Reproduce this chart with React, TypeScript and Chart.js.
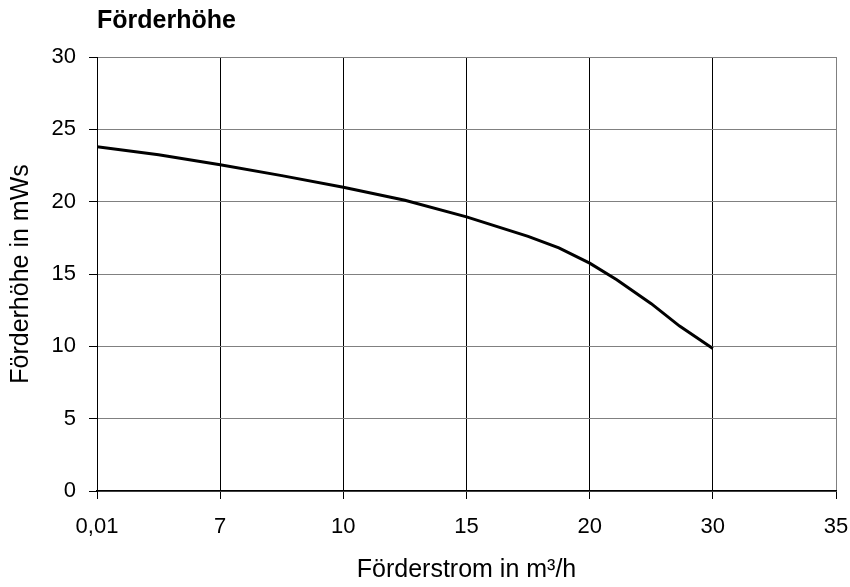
import React, { useEffect, useRef } from "react";
import { Chart, registerables } from "chart.js";

Chart.register(...registerables);

const chartTitle = "Förderhöhe";
const xAxisTitle = "Förderstrom in m³/h";
const yAxisTitle = "Förderhöhe in mWs";

// category tick labels on the x axis (equally spaced)
const xTickLabels = ["0,01", "7", "10", "15", "20", "30", "35"];

// curve points: position in category units along the x axis, head in mWs
const curveX = [0, 0.5, 1, 1.5, 2, 2.5, 3, 3.5, 3.75, 4, 4.22, 4.5, 4.73, 5];
const curveY = [23.8, 23.25, 22.55, 21.8, 21.0, 20.1, 18.95, 17.6, 16.8, 15.75, 14.6, 12.95, 11.4, 9.85];

const yMin = 0;
const yMax = 30;
const yStep = 5;

const FONT = "'Liberation Sans', Arial, sans-serif";

const titlePlugin = {
  id: "leftTitle",
  afterDraw(chart: any) {
    const { ctx, chartArea } = chart;
    ctx.save();
    ctx.font = `bold 25px ${FONT}`;
    ctx.fillStyle = "#000";
    ctx.textAlign = "left";
    ctx.textBaseline = "middle";
    ctx.fillText(chartTitle, chartArea.left, 21);
    ctx.restore();
  },
};

export default function App() {
  const ref = useRef<HTMLCanvasElement | null>(null);

  useEffect(() => {
    if (!ref.current) return;
    const data = curveX.map((x, i) => ({ x, y: curveY[i] }));
    const lastIdx = xTickLabels.length - 1;
    const chart = new Chart(ref.current, {
      type: "line",
      data: {
        datasets: [
          {
            data,
            borderColor: "#000",
            borderWidth: 3,
            pointRadius: 0,
            tension: 0,
            fill: false,
          },
        ],
      },
      options: {
        animation: false,
        responsive: true,
        maintainAspectRatio: false,
        layout: { padding: { top: 57, right: 14, bottom: 0, left: 0 } },
        plugins: {
          legend: { display: false },
          tooltip: { enabled: false },
          title: { display: false },
        },
        scales: {
          x: {
            type: "linear",
            min: 0,
            max: lastIdx,
            afterBuildTicks: (scale: any) => {
              scale.ticks = xTickLabels.map((_, i) => ({ value: i }));
            },
            afterFit: (scale: any) => {
              scale.height = 96;
              scale.paddingLeft = 0;
              scale.paddingRight = 0;
            },
            ticks: {
              callback: (v: any) => xTickLabels[Math.round(Number(v))] ?? "",
              color: "#000",
              font: { family: FONT, size: 22 },
              padding: 15,
              maxRotation: 0,
              autoSkip: false,
            },
            grid: {
              color: (c: any) => (c.index === lastIdx ? "#808080" : "#000"),
              tickColor: "#000",
              tickLength: 8,
              lineWidth: 1,
            },
            border: { color: "#000", width: 1.5 },
            title: {
              display: true,
              text: xAxisTitle,
              color: "#000",
              font: { family: FONT, size: 25 },
              padding: { top: 0, bottom: 2 },
            },
          },
          y: {
            min: yMin,
            max: yMax,
            afterFit: (scale: any) => {
              scale.width = 97;
              scale.paddingTop = 0;
              scale.paddingBottom = 0;
            },
            ticks: {
              stepSize: yStep,
              color: "#000",
              font: { family: FONT, size: 22 },
              padding: 13,
            },
            grid: {
              color: "#808080",
              tickColor: "#000",
              tickLength: 8,
              lineWidth: 1,
            },
            border: { color: "#000", width: 1 },
            title: {
              display: true,
              text: yAxisTitle,
              color: "#000",
              font: { family: FONT, size: 25 },
              padding: { top: 6, bottom: 0 },
            },
          },
        },
      },
      plugins: [titlePlugin],
    });
    return () => chart.destroy();
  }, []);

  return (
    <div style={{ position: "fixed", left: 0, top: 0, width: 850, height: 587, background: "#fff" }}>
      <canvas ref={ref} />
    </div>
  );
}
